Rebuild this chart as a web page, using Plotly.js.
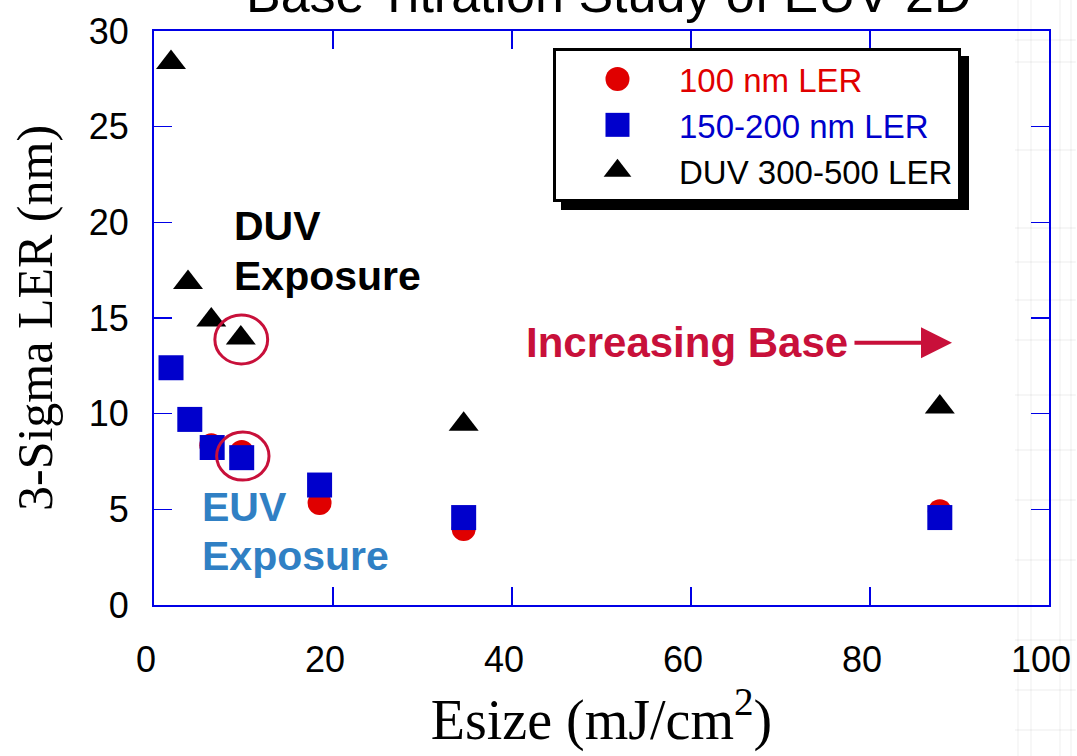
<!DOCTYPE html>
<html>
<head>
<meta charset="utf-8">
<script src="https://cdn.plot.ly/plotly-3.0.1.min.js"></script>
<style>
  html, body { margin: 0; padding: 0; background: #ffffff; }
  #chart { width: 1077px; height: 756px; }
</style>
</head>
<body>
<div id="chart"></div>
<script>
// Exposure dose (mJ/cm^2) and 3-sigma line edge roughness (nm) per resist series
const esize100 = [6.4, 9.8, 18.5, 34.6, 87.8];
const ler100 = [8.35, 8.0, 5.33, 3.97, 4.9];

const esize150 = [1.9, 4.0, 6.5, 9.8, 18.5, 34.6, 87.8];
const ler150 = [12.4, 9.7, 8.23, 7.7, 6.27, 4.57, 4.57];

const esizeDuv = [1.9, 3.8, 6.4, 9.7, 34.6, 87.8];
const lerDuv = [28.35, 16.85, 14.9, 13.95, 9.45, 10.35];

const seriesNames = ['100 nm LER', '150-200 nm LER', 'DUV 300-500 LER'];
const xTicks = [0, 20, 40, 60, 80, 100];
const yTicks = [0, 5, 10, 15, 20, 25, 30];

const AXIS_BLUE = '#0000e6';
const CRIMSON = '#c8103a';
const EUV_BLUE = '#3080c4';
const SANS = 'Liberation Sans, Arial, sans-serif';
const SERIF = 'Liberation Serif, Times New Roman, serif';

const traces = [
  {
    x: esize100, y: ler100, type: 'scatter', mode: 'markers',
    name: '<span style="color:#e00000">' + seriesNames[0] + '</span>',
    marker: { symbol: 'circle', size: 24, color: '#e00000' }
  },
  {
    x: esize150, y: ler150, type: 'scatter', mode: 'markers',
    name: '<span style="color:#0000cc">' + seriesNames[1] + '</span>',
    marker: { symbol: 'square', size: 25, color: '#0000cc' }
  },
  {
    x: esizeDuv, y: lerDuv, type: 'scatter', mode: 'markers',
    name: seriesNames[2],
    marker: { symbol: 'triangle-up', size: 26, color: '#000000' }
  }
];

const axisCommon = {
  showline: true, linecolor: AXIS_BLUE, linewidth: 2,
  ticks: 'inside', ticklen: 18, tickwidth: 1.5, tickcolor: AXIS_BLUE,
  mirror: 'ticks', showgrid: false, zeroline: false,
  tickfont: { family: SANS, size: 36, color: '#000000' }
};

// faint ruled strip along the right edge of the page
const stripShapes = [];
[1018, 1031, 1060, 1071].forEach(px => {
  const xp = (px - 154) / 895;
  stripShapes.push({ type: 'line', xref: 'paper', yref: 'paper', x0: xp, x1: xp, y0: -0.27, y1: 1.06,
    line: { color: 'rgba(0,0,0,0.03)', width: 2 }, layer: 'below' });
});
[40, 62, 150, 228, 262, 300, 340, 395, 450, 500, 560, 640, 690, 730].forEach(py => {
  const yp = (605 - py) / 574;
  stripShapes.push({ type: 'line', xref: 'paper', yref: 'paper', x0: (1015 - 154) / 895, x1: 1.03, y0: yp, y1: yp,
    line: { color: 'rgba(0,0,0,0.035)', width: 2 }, layer: 'below' });
});

const layout = {
  width: 1077, height: 756,
  margin: { l: 154, r: 28, t: 31, b: 151 },
  paper_bgcolor: '#ffffff', plot_bgcolor: 'rgba(0,0,0,0)',
  showlegend: true,
  legend: {
    x: 0.4458, y: 0.9704, xanchor: 'left', yanchor: 'top',
    bgcolor: '#ffffff', bordercolor: '#000000', borderwidth: 3,
    font: { family: SANS, size: 33, color: '#000000' },
    itemwidth: 113, tracegroupgap: 0
  },
  xaxis: Object.assign({}, axisCommon, {
    range: [0, 100], tickvals: xTicks, ticktext: xTicks.map(String),
    ticklabelstandoff: 22, ticklabelshift: -8,
    title: { text: 'Esize (mJ/cm<sup>2</sup>)', font: { family: SERIF, size: 56, color: '#000000' }, standoff: 18 }
  }),
  yaxis: Object.assign({}, axisCommon, {
    range: [0, 30], tickvals: yTicks, ticktext: yTicks.map(String),
    ticklabelstandoff: 16,
    title: { text: '3-Sigma LER (nm)', font: { family: SERIF, size: 50, color: '#000000' }, standoff: 20 }
  }),
  shapes: stripShapes.concat([
    { type: 'circle', xref: 'x', yref: 'y', x0: 6.8, x1: 12.7, y0: 12.6, y1: 15.16,
      line: { color: CRIMSON, width: 3 } },
    { type: 'circle', xref: 'x', yref: 'y', x0: 7.0, x1: 12.85, y0: 6.53, y1: 9.04,
      line: { color: CRIMSON, width: 3 } }
  ]),
  annotations: [
    { text: 'Base Titration Study of EUV-2D', xref: 'paper', yref: 'paper', x: 0.508, y: 1.0645,
      xanchor: 'center', yanchor: 'middle', showarrow: false,
      font: { family: SANS, size: 52, color: '#000000' } },
    { text: '<b>DUV</b>', xref: 'x', yref: 'y', x: 8.7, y: 19.81, xanchor: 'left', yanchor: 'middle',
      showarrow: false, font: { family: SANS, size: 41, color: '#000000' } },
    { text: '<b>Exposure</b>', xref: 'x', yref: 'y', x: 8.7, y: 17.2, xanchor: 'left', yanchor: 'middle',
      showarrow: false, font: { family: SANS, size: 41, color: '#000000' } },
    { text: '<b>EUV</b>', xref: 'x', yref: 'y', x: 5.1, y: 5.12, xanchor: 'left', yanchor: 'middle',
      showarrow: false, font: { family: SANS, size: 41, color: EUV_BLUE } },
    { text: '<b>Exposure</b>', xref: 'x', yref: 'y', x: 5.1, y: 2.56, xanchor: 'left', yanchor: 'middle',
      showarrow: false, font: { family: SANS, size: 41, color: EUV_BLUE } },
    { text: '<b>Increasing Base</b>', xref: 'x', yref: 'y', x: 41.3, y: 13.73, xanchor: 'left', yanchor: 'middle',
      showarrow: false, font: { family: SANS, size: 42, color: CRIMSON } },
    { text: '', xref: 'x', yref: 'y', x: 89.16, y: 13.7, showarrow: true,
      ax: -99, ay: 0, arrowhead: 2, arrowsize: 1.55, arrowwidth: 4, arrowcolor: CRIMSON, standoff: 0 }
  ]
};

Plotly.newPlot('chart', traces, layout, { staticPlot: true, displayModeBar: false }).then(gd => {
  // drop shadow behind the legend box
  const bg = gd.querySelector('.legend rect.bg');
  if (bg) {
    const shadow = bg.cloneNode(false);
    shadow.setAttribute('class', 'legend-shadow');
    shadow.setAttribute('transform', 'translate(8,8)');
    shadow.style.fill = '#000000';
    shadow.style.stroke = '#000000';
    bg.parentNode.insertBefore(shadow, bg);
  }
  // enlarge the legend symbols to the size of the plotted markers
  gd.querySelectorAll('.legend .legendpoints path.scatterpts').forEach(p => {
    const t = p.getAttribute('transform') || '';
    p.setAttribute('transform', t + ' scale(1.5)');
  });
});
</script>
</body>
</html>
